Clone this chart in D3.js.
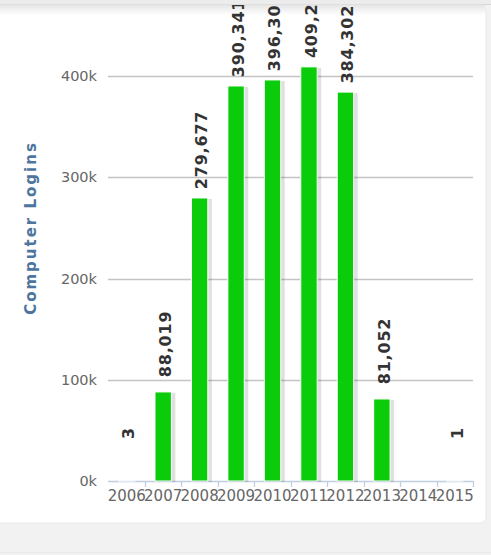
<!DOCTYPE html>
<html>
<head>
<meta charset="utf-8">
<script src="https://cdnjs.cloudflare.com/ajax/libs/d3/7.8.5/d3.min.js"></script>
<style>
  html, body { margin: 0; padding: 0; background: #f2f2f2; }
  svg { display: block; font-family: "DejaVu Sans", sans-serif; }
</style>
</head>
<body>
<div id="chart"></div>
<script>
// Data
var years = ['2006', '2007', '2008', '2009', '2010', '2011', '2012', '2013', '2014', '2015'];
var logins = [3, 88019, 279677, 390341, 396305, 409218, 384302, 81052, null, 1];
var yTicks = [0, 100000, 200000, 300000, 400000, 500000];

var width = 491, height = 555;

var svg = d3.select('#chart').append('svg')
    .attr('width', width).attr('height', height);

var defs = svg.append('defs');

// Soft shadow for the top of the card
var grad = defs.append('linearGradient').attr('id', 'topShade')
    .attr('x1', 0).attr('x2', 0).attr('y1', 0).attr('y2', 1);
grad.append('stop').attr('offset', '0%').attr('stop-color', '#e6e6e6');
grad.append('stop').attr('offset', '100%').attr('stop-color', '#ffffff');

defs.append('clipPath').attr('id', 'cardClip')
    .append('rect')
    .attr('x', -6).attr('y', 5).attr('width', 492).attr('height', 518);

// Page strip and card
svg.append('rect').attr('x', 0).attr('y', 0).attr('width', width).attr('height', 5)
    .attr('fill', '#ececec');
svg.append('line').attr('x1', 0).attr('x2', width).attr('y1', 4.5).attr('y2', 4.5)
    .attr('stroke', '#d6d6d6');
svg.append('rect')
    .attr('x', -5).attr('y', 5).attr('width', 491).attr('height', 518)
    .attr('rx', 6).attr('ry', 6)
    .attr('fill', '#ffffff')
    .attr('stroke', '#e8e8e8');
svg.append('rect').attr('x', 0).attr('y', 5).attr('width', 485).attr('height', 10)
    .attr('fill', 'url(#topShade)');
svg.append('line').attr('x1', 0).attr('x2', width).attr('y1', 552.5).attr('y2', 552.5)
    .attr('stroke', '#ebebeb');

var chart = svg.append('g').attr('clip-path', 'url(#cardClip)');

// Scales
var x = d3.scaleBand().domain(years).range([108.5, 473]).padding(0);
var y = d3.scaleLinear().domain([0, 500000]).range([481, -25]);

var barWidth = x.bandwidth() * 0.45;

// Grid lines
chart.append('g').selectAll('line')
    .data(yTicks.filter(function(d) { return d > 0; }))
    .enter().append('line')
    .attr('x1', 108).attr('x2', 473)
    .attr('y1', function(d) { return Math.round(y(d)) + 0.5; })
    .attr('y2', function(d) { return Math.round(y(d)) + 0.5; })
    .attr('stroke', '#c4c4c4')
    .attr('stroke-width', 1.3);

// Y axis labels
chart.append('g').selectAll('text')
    .data(yTicks)
    .enter().append('text')
    .attr('x', 97)
    .attr('y', function(d) { return y(d) + 5; })
    .attr('text-anchor', 'end')
    .style('font-size', '14.5px')
    .style('fill', '#666666')
    .text(function(d) { return d / 1000 + 'k'; });

// Y axis title
chart.append('text')
    .attr('transform', 'translate(36,228) rotate(-90)')
    .attr('text-anchor', 'middle')
    .style('font-size', '15px')
    .style('font-weight', 'bold')
    .style('letter-spacing', '2px')
    .style('fill', '#4d759e')
    .text('Computer Logins');

// X axis
var xAxis = chart.append('g');
xAxis.append('line')
    .attr('x1', 108).attr('x2', 473.5)
    .attr('y1', 481.5).attr('y2', 481.5)
    .attr('stroke', '#c0d0e0').attr('stroke-width', 1.3);
xAxis.selectAll('line.tick')
    .data(years)
    .enter().append('line')
    .attr('class', 'tick')
    .attr('x1', function(d) { return Math.round(x(d) + x.bandwidth()) + 0.5; })
    .attr('x2', function(d) { return Math.round(x(d) + x.bandwidth()) + 0.5; })
    .attr('y1', 481).attr('y2', 487)
    .attr('stroke', '#c0d0e0').attr('stroke-width', 1.3);
xAxis.selectAll('text')
    .data(years)
    .enter().append('text')
    .attr('x', function(d) { return x(d) + x.bandwidth() / 2; })
    .attr('y', 501)
    .attr('text-anchor', 'middle')
    .style('font-size', '15px')
    .style('fill', '#666666')
    .text(function(d) { return d; });

// Bars
var points = years.map(function(yr, i) { return { year: yr, value: logins[i] }; })
    .filter(function(d) { return d.value !== null; });

var bars = chart.append('g');

// shadow behind each bar
bars.selectAll('rect.shadow')
    .data(points)
    .enter().append('rect')
    .attr('class', 'shadow')
    .attr('x', function(d) { return x(d.year) + (x.bandwidth() - barWidth) / 2 + 2; })
    .attr('y', function(d) { return y(d.value) + 1; })
    .attr('width', barWidth + 2)
    .attr('height', function(d) { return y(0) - y(d.value); })
    .attr('fill', '#000000')
    .style('opacity', 0.12);

bars.selectAll('rect.bar')
    .data(points)
    .enter().append('rect')
    .attr('class', 'bar')
    .attr('x', function(d) { return x(d.year) + (x.bandwidth() - barWidth) / 2; })
    .attr('y', function(d) { return y(d.value); })
    .attr('width', barWidth)
    .attr('height', function(d) { return y(0) - y(d.value); })
    .attr('fill', '#0acc0a')
    .attr('stroke', '#ffffff')
    .attr('stroke-width', 1);

// Value labels, rotated, centred above the bar
var fmt = d3.format(',');
chart.append('g').selectAll('text')
    .data(points)
    .enter().append('text')
    .attr('transform', function(d) {
        var cx = x(d.year) + x.bandwidth() / 2 + 2,
            cy = y(d.value) - 48;
        return 'translate(' + cx + ',' + cy + ') rotate(-90)';
    })
    .attr('text-anchor', 'middle')
    .attr('dy', '0.36em')
    .style('font-size', '16px')
    .style('font-weight', 'bold')
    .style('letter-spacing', '0.8px')
    .style('fill', '#333333')
    .text(function(d) { return fmt(d.value); });
</script>
</body>
</html>
